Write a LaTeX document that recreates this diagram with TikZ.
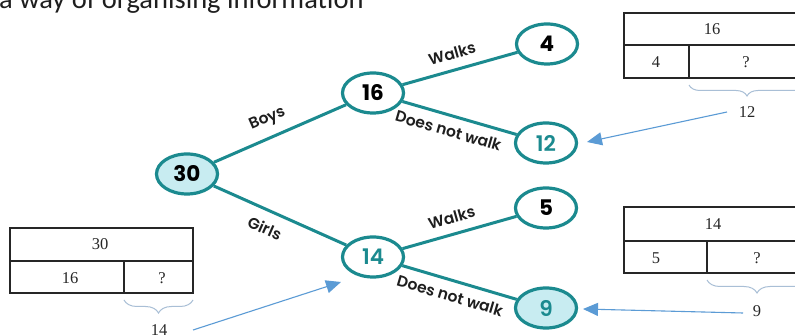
\documentclass[tikz,border=0pt]{standalone}
\usepackage{fontspec}
\setmainfont{Liberation Serif}
\newfontfamily\titlefont{Carlito}
\newfontfamily\treefont{Poppins}
\newfontfamily\treesemi{Poppins SemiBold}
\usetikzlibrary{shapes.geometric,arrows.meta,decorations.pathreplacing}

\definecolor{treeteal}{HTML}{1B8A8F}
\definecolor{treefill}{HTML}{C8ECF1}
\definecolor{pointerblue}{HTML}{5B9BD5}
\definecolor{bracegrey}{HTML}{A9BFD6}
\definecolor{inkdark}{HTML}{1E1E1E}

\tikzset{
  tnode/.style={ellipse, draw=treeteal, line width=3.2pt, fill=white,
    minimum width=61pt, minimum height=40pt, inner sep=0pt,
    font=\treefont\fontsize{21.5}{22}\selectfont\bfseries, text=black},
  shaded/.style={fill=treefill},
  tealnum/.style={font=\treesemi\fontsize{21.5}{22}\selectfont, text=treeteal},
  branch/.style={draw=treeteal, line width=3pt},
  blab/.style={font=\treesemi\fontsize{15.5}{16}\selectfont, text=inkdark,
    sloped, inner sep=0pt},
  bar/.style={draw=black!85, line width=1.3pt},
  celltext/.style={font=\fontsize{16.5}{17}\selectfont, text=black!85, inner sep=0pt},
  curly/.style={draw=bracegrey, line width=1pt, decorate,
    decoration={brace, mirror, amplitude=#1}},
  pointer/.style={draw=pointerblue, line width=1.1pt,
    -{Triangle[length=15pt,width=13pt]}}
}

\begin{document}
\begin{tikzpicture}[x=1pt,y=-1pt]
\clip (0,0) rectangle (795,336);
\fill[white] (0,0) rectangle (795,336);

% heading, cut by the top edge
\node[anchor=base west, inner sep=0pt, text=inkdark] (heading) at (-1,8.5)
  {\titlefont\fontsize{28.5}{30}\selectfont a way of organising information};

% tree diagram
\node[tnode, shaded] (n30) at (187,174) {30};
\node[tnode] (n16) at (373,93) {16};
\node[tnode, tealnum] (n14) at (373,257) {14};
\node[tnode] (n4) at (547,44) {4};
\node[tnode, tealnum] (n12) at (546,143) {12};
\node[tnode] (n5) at (546,208) {5};
\node[tnode, shaded, tealnum] (n9) at (546,308) {9};

\draw[branch] (n30) -- node[blab, pos=0.46, above=9pt] {Boys} (n16);
\draw[branch] (n30) -- node[blab, pos=0.44, below=10pt] {Girls} (n14);
\draw[branch] (n16) -- node[blab, pos=0.47, above=9pt] {Walks} (n4);
\draw[branch] (n16) -- node[blab, pos=0.44, below=8pt] {Does not walk} (n12);
\draw[branch] (n14) -- node[blab, pos=0.47, above=9pt] {Walks} (n5);
\draw[branch] (n14) -- node[blab, pos=0.455, below=8pt] {Does not walk} (n9);

% bar model 16 = 4 + ?
\draw[bar] (624,13) rectangle (801,78);
\draw[bar] (624,45) -- (801,45);
\draw[bar] (689,45) -- (689,78);
\node[celltext] (b16) at (712,29) {16};
\node[celltext] (b4) at (656,62) {4};
\node[celltext] (bq1) at (746,62) {?};
\draw[curly=11pt] (689,85) -- (805,85);
\node[celltext] (l12) at (747,112) {12};

% bar model 14 = 5 + ?
\draw[bar] (624,207) rectangle (804,273);
\draw[bar] (624,241) -- (804,241);
\draw[bar] (707,241) -- (707,273);
\node[celltext] (b14) at (713,224) {14};
\node[celltext] (b5) at (656,258) {5};
\node[celltext] (bq2) at (757,258) {?};
\draw[curly=13pt] (707,280) -- (807,280);
\node[celltext] (l9) at (757,311) {9};

% bar model 30 = 16 + ?
\draw[bar] (10,228) rectangle (193,293);
\draw[bar] (10,261) -- (193,261);
\draw[bar] (124,261) -- (124,293);
\node[celltext] (b30) at (100,244) {30};
\node[celltext] (b16b) at (70,278) {16};
\node[celltext] (bq3) at (162,278) {?};
\draw[curly=13pt] (124,300) -- (193,300);
\node[celltext] (l14) at (159,330) {14};

% pointers from the bar models to the tree
\coordinate (s12) at (727,112);
\coordinate (t12) at (587,142);
\coordinate (s9) at (743,313);
\coordinate (t9) at (583,309);
\coordinate (s14) at (193,330);
\coordinate (t14) at (341,282);
\draw[pointer] (s12) -- (t12);
\draw[pointer] (s9) -- (t9);
\draw[pointer] (s14) -- (t14);
\end{tikzpicture}
\end{document}
